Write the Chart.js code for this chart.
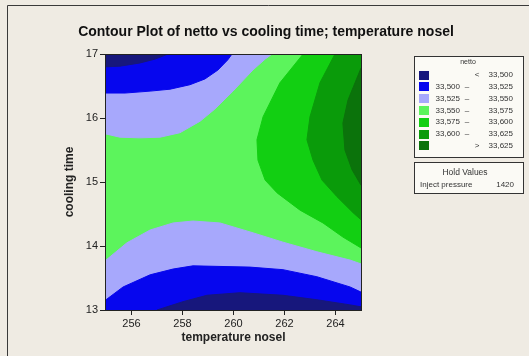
<!DOCTYPE html>
<html><head><meta charset="utf-8">
<script src="https://cdn.jsdelivr.net/npm/chart.js@4/dist/chart.umd.min.js"></script>
<style>html,body{margin:0;padding:0;background:#efebe3;} canvas{display:block}</style>
</head><body>
<canvas id="c" width="529" height="356"></canvas>
<script>
// Axis ranges and ticks
const xMin = 255, xMax = 265, yMin = 13, yMax = 17;
const xTicks = [256, 258, 260, 262, 264];
const yTicks = [13, 14, 15, 16, 17];

// Legend levels (netto)
const levelFrom = ["", "33,500", "33,525", "33,550", "33,575", "33,600", ""];
const levelSep  = ["<", "–", "–", "–", "–", "–", ">"];
const levelTo   = ["33,500", "33,525", "33,550", "33,575", "33,600", "33,625", "33,625"];
const levelColors = ["#17177c", "#0606ee", "#a7a8fc", "#5cf45c", "#12cf12", "#0a9b0a", "#0b730b"];

// Hold values
const holdName = "Inject pressure";
const holdValue = "1420";
const chartTitle = "Contour Plot of netto vs cooling time; temperature nosel";

// Contour lines: [temperature nosel, cooling time]
const upper33500 = [[255,16.80],[255.55,16.81],[256.33,16.86],[256.92,16.92],[257.43,17]];
const upper33525 = [[255,16.39],[255.75,16.39],[256.73,16.42],[257.51,16.45],[258.29,16.52],[258.88,16.61],[259.39,16.75],[259.78,16.91],[259.94,17]];
const upper33550 = [[255,15.75],[255.55,15.70],[256.33,15.69],[257.12,15.70],[257.90,15.77],[258.69,15.95],[259.27,16.14],[259.98,16.42],[260.76,16.75],[261.24,16.92],[261.51,17]];
const right33575 = [[262.73,17],[261.82,16.55],[261.16,16.02],[260.92,15.66],[260.96,15.34],[261.24,15.03],[261.71,14.83],[262.61,14.56],[263.51,14.36],[264.29,14.14],[265,13.97]];
const right33600 = [[263.98,17],[263.39,16.55],[263.0,16.02],[262.88,15.66],[263.12,15.34],[263.47,15.03],[264.06,14.77],[264.69,14.52],[265,14.41]];
const right33625 = [[265,16.78],[264.49,16.28],[264.29,15.92],[264.37,15.5],[264.65,15.19],[265,14.95]];
const lower33550 = [[255,13.78],[255.82,14.05],[256.73,14.25],[257.63,14.36],[258.41,14.39],[259.47,14.36],[260.65,14.22],[261.94,14.06],[263.27,13.91],[264.57,13.78],[265,13.72]];
const lower33525 = [[255,13.16],[255.67,13.36],[256.73,13.55],[257.63,13.64],[258.41,13.69],[260.65,13.67],[261.94,13.63],[263.27,13.52],[264.57,13.36],[265,13.28]];
const lower33500 = [[257.0,13],[258.02,13.13],[258.96,13.23],[260.25,13.27],[261.94,13.23],[263.27,13.16],[264.57,13.08],[265,13.05]];

function region(line, corners, color) {
  const pts = line.concat(corners).map(p => ({x: p[0], y: p[1]}));
  return {data: pts, showLine: true, fill: 'shape', backgroundColor: color, borderColor: color,
          borderWidth: 1, pointRadius: 0, pointHoverRadius: 0, tension: 0};
}
// painter's order: first = bottom
const regions = [
  region(upper33550, [[xMin, yMax]], levelColors[2]),
  region(upper33525, [[xMin, yMax]], levelColors[1]),
  region(upper33500, [[xMin, yMax]], levelColors[0]),
  region(lower33550, [[xMax, yMin], [xMin, yMin]], levelColors[2]),
  region(lower33525, [[xMax, yMin], [xMin, yMin]], levelColors[1]),
  region(lower33500, [[xMax, yMin]], levelColors[0]),
  region(right33575, [[xMax, yMax]], levelColors[4]),
  region(right33600, [[xMax, yMax]], levelColors[5]),
  region(right33625, [], levelColors[6])
];
regions.forEach((d, i) => { d.order = regions.length - i; });

const bgPlugin = {
  id: 'bg',
  beforeDraw(chart) {
    const c = chart.ctx;
    c.save();
    c.fillStyle = '#efebe3';
    c.fillRect(0, 0, chart.width, chart.height);
    c.strokeStyle = '#3a3a3a'; c.lineWidth = 1;
    c.beginPath(); c.moveTo(7.5, chart.height); c.lineTo(7.5, 5.5); c.lineTo(chart.width, 5.5); c.stroke();
    c.fillStyle = '#111';
    c.font = 'bold 14px "Liberation Sans"'; c.textAlign = 'center'; c.textBaseline = 'middle';
    c.fillText(chartTitle, 266, 32);
    c.restore();
  },
  beforeDatasetsDraw(chart) {
    const a = chart.chartArea, c = chart.ctx;
    c.save(); c.fillStyle = levelColors[3];
    c.fillRect(a.left, a.top, a.right - a.left, a.bottom - a.top);
    c.restore();
  },
  afterDatasetsDraw(chart) {
    const a = chart.chartArea, c = chart.ctx;
    c.save(); c.strokeStyle = '#222'; c.lineWidth = 1;
    c.strokeRect(Math.round(a.left) - 0.5, Math.round(a.top) + 0.5, Math.round(a.right - a.left) + 1, Math.round(a.bottom - a.top));
    c.restore();
  },
  afterDraw(chart) {
    const c = chart.ctx;
    c.save();
    // legend box
    c.fillStyle = '#fbfaf5'; c.strokeStyle = '#333'; c.lineWidth = 1;
    c.fillRect(414.5, 56.5, 109, 101); c.strokeRect(414.5, 56.5, 109, 101);
    c.fillStyle = '#333'; c.textBaseline = 'middle';
    c.font = '7px "Liberation Sans"'; c.textAlign = 'center';
    c.fillText('netto', 468, 62);
    c.font = '8px "Liberation Sans"';
    for (let i = 0; i < levelColors.length; i++) {
      const yc = 75 + i * 11.8;
      c.fillStyle = levelColors[i];
      c.fillRect(419, Math.round(yc - 4.5), 10, 9);
      c.fillStyle = '#333';
      if (levelFrom[i]) {
        c.textAlign = 'right'; c.fillText(levelFrom[i], 460, yc);
        c.textAlign = 'center'; c.fillText(levelSep[i], 467, yc);
      } else {
        c.textAlign = 'center'; c.fillText(levelSep[i], 477, yc);
      }
      c.textAlign = 'right'; c.fillText(levelTo[i], 513, yc);
    }
    // hold values box
    c.fillStyle = '#fbfaf5';
    c.fillRect(414.5, 162.5, 109, 31); c.strokeRect(414.5, 162.5, 109, 31);
    c.fillStyle = '#333';
    c.font = '8.5px "Liberation Sans"'; c.textAlign = 'center';
    c.fillText('Hold Values', 465, 173);
    c.font = '8px "Liberation Sans"'; c.textAlign = 'left';
    c.fillText(holdName, 420, 185);
    c.textAlign = 'right'; c.fillText(holdValue, 514, 185);
    c.restore();
  }
};

const tickFont = {family: 'Liberation Sans', size: 11};
const titleFont = {family: 'Liberation Sans', size: 12, weight: 'bold'};

new Chart(document.getElementById('c'), {
  type: 'scatter',
  data: {datasets: regions},
  plugins: [bgPlugin],
  options: {
    responsive: false, animation: false, devicePixelRatio: 1,
    events: [],
    layout: {padding: {left: 58, right: 168, top: 54, bottom: 7}},
    plugins: {
      legend: {display: false}, tooltip: {enabled: false}, title: {display: false}
    },
    scales: {
      x: {type: 'linear', min: xMin, max: xMax,
          afterBuildTicks: s => { s.ticks = xTicks.map(v => ({value: v})); },
          afterFit: s => { s.height = 39; },
          grid: {drawOnChartArea: false, tickLength: 5, color: '#222'},
          border: {color: '#222'},
          ticks: {color: '#222', padding: 2, font: tickFont, maxRotation: 0},
          title: {display: true, text: 'temperature nosel', color: '#222', font: titleFont}},
      y: {type: 'linear', min: yMin, max: yMax,
          afterBuildTicks: s => { s.ticks = yTicks.map(v => ({value: v})); },
          afterFit: s => { s.width = 48; },
          grid: {drawOnChartArea: false, tickLength: 6, color: '#222'},
          border: {color: '#222'},
          ticks: {color: '#222', padding: 2, font: tickFont},
          title: {display: true, text: 'cooling time', color: '#222', font: titleFont}}
    }
  }
});
</script>
</body></html>
